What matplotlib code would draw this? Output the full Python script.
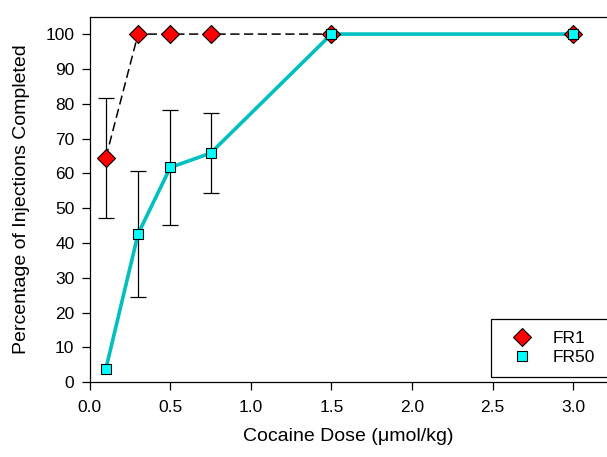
import matplotlib.pyplot as plt

plt.rcParams['font.family'] = ['Liberation Sans', 'DejaVu Sans']

# doses (umol/kg)
dose = [0.1, 0.3, 0.5, 0.75, 1.5, 3.0]

# FR1 schedule
fr1_pct = [64.5, 100, 100, 100, 100, 100]
fr1_err = [17.2, 0, 0, 0, 0, 0]

# FR50 schedule
fr50_pct = [3.8, 42.6, 61.7, 65.8, 100, 100]
fr50_err = [0, 18.1, 16.4, 11.5, 0, 0]

fig = plt.figure(figsize=(6.07, 4.57), dpi=100)
ax = fig.add_axes([0.1478, 0.1635, 0.8522, 0.8000])


def draw_errors(x, y, err):
    # only points that actually have an SEM get a bar (no stray caps)
    keep = [i for i in range(len(x)) if err[i] > 0]
    ax.errorbar([x[i] for i in keep], [y[i] for i in keep],
                yerr=[err[i] for i in keep], fmt='none', ecolor='black',
                elinewidth=0.9, capsize=6, capthick=0.9, zorder=1)


draw_errors(dose, fr1_pct, fr1_err)
draw_errors(dose, fr50_pct, fr50_err)

ax.plot(dose, fr1_pct, color='black', linestyle=(0, (6, 3)), linewidth=1.1,
        zorder=2)
ax.plot(dose, fr50_pct, color='#00BFBF', linewidth=2.6, zorder=2)

ax.plot(dose, fr1_pct, linestyle='none', marker='D', markersize=9.5,
        markerfacecolor='red', markeredgecolor='black', markeredgewidth=0.8,
        zorder=3, label='FR1')
ax.plot(dose, fr50_pct, linestyle='none', marker='s', markersize=7.5,
        markerfacecolor='cyan', markeredgecolor='black', markeredgewidth=0.8,
        zorder=4, label='FR50')

ax.set_xlim(0, 3.21)
ax.set_ylim(0, 105)
ax.set_xticks([0.0, 0.5, 1.0, 1.5, 2.0, 2.5, 3.0])
ax.set_xticklabels(['0.0', '0.5', '1.0', '1.5', '2.0', '2.5', '3.0'])
ax.set_yticks(range(0, 101, 10))
ax.tick_params(direction='out', length=6, width=0.9, labelsize=12.5)
ax.tick_params(axis='x', pad=7)
ax.tick_params(axis='y', pad=5)
ax.spines['right'].set_visible(False)
for s in ['left', 'bottom', 'top']:
    ax.spines[s].set_linewidth(0.9)

ax.set_xlabel('Cocaine Dose (\u03bcmol/kg)', fontsize=14, labelpad=9)
ax.set_ylabel('Percentage of Injections Completed', fontsize=14, labelpad=11)

leg = ax.legend(loc='lower left', bbox_to_anchor=(0.776, 0.0145, 0.3, 0.165),
                mode='expand', fontsize=12.5, frameon=True, fancybox=False,
                edgecolor='black', handletextpad=0.62, labelspacing=0.2,
                borderpad=0.7, handlelength=2.2, borderaxespad=0)
leg.get_frame().set_linewidth(0.9)
leg.get_frame().set_alpha(1)

fig.savefig('out.png', dpi=100)
